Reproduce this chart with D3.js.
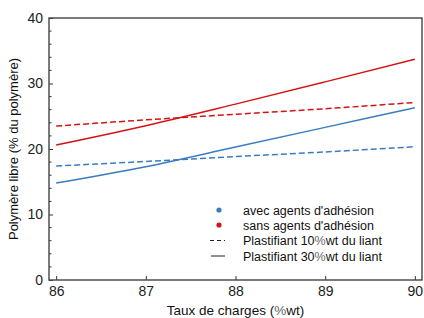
<!DOCTYPE html>
<html>
<head>
<meta charset="utf-8">
<script src="https://cdn.jsdelivr.net/npm/d3@7"></script>
<style>
body { margin: 0; background: #fff; }
svg { font-family: "Liberation Sans", Arial, sans-serif; }
</style>
</head>
<body>
<svg id="chart"></svg>
<script>
var width = 424, height = 318;
var margin = { top: 18, right: 2, bottom: 38, left: 49 };

// données
var charges = [86, 87, 88, 89, 90];
var rougePlein = [20.6, 23.55, 26.85, 30.25, 33.7];   // sans agents, 30%
var rougeTiret = [23.5, 24.45, 25.3, 26.15, 27.1];    // sans agents, 10%
var bleuPlein = [14.8, 17.3, 20.3, 23.3, 26.3];       // avec agents, 30%
var bleuTiret = [17.4, 18.1, 18.85, 19.55, 20.35];    // avec agents, 10%
var xTicks = [86, 87, 88, 89, 90];
var yTicks = [0, 10, 20, 30, 40];
var legendLabels = ["avec agents d'adhésion", "sans agents d'adhésion",
  "Plastifiant 10%wt du liant", "Plastifiant 30%wt du liant"];

var red = "#d41414", blue = "#3a7cc0";

var svg = d3.select("#chart").attr("width", width).attr("height", height);
var chart_width = width - margin.left - margin.right;
var chart_height = height - margin.top - margin.bottom;

var xScale = d3.scaleLinear().domain([85.92, 90.08]).range([0, chart_width]);
var yScale = d3.scaleLinear().domain([0, 40]).range([chart_height, 0]);

var g = svg.append("g").attr("transform", "translate(" + margin.left + "," + margin.top + ")");

// ticks mineurs y
var yMinor = d3.range(0, 41, 2).filter(function(v) { return v % 10 != 0; });
g.selectAll(".yminor").data(yMinor).enter().append("line")
  .attr("x1", 0).attr("x2", 2.5)
  .attr("y1", function(d) { return yScale(d); }).attr("y2", function(d) { return yScale(d); })
  .attr("stroke", "#333").attr("stroke-width", 1);

var yAxis = d3.axisLeft(yScale).tickValues(yTicks).tickFormat(d3.format("d")).tickSize(-4).tickPadding(6);
var gy = g.append("g").call(yAxis);
gy.select(".domain").remove();
gy.selectAll("line").attr("stroke", "#333");
gy.selectAll("text").attr("font-size", 14).attr("fill", "#222");

var xAxis = d3.axisBottom(xScale).tickValues(xTicks).tickFormat(d3.format("d")).tickSize(-4).tickPadding(6);
var gx = g.append("g").attr("transform", "translate(0," + chart_height + ")").call(xAxis);
gx.select(".domain").remove();
gx.selectAll("line").attr("stroke", "#333");
gx.selectAll("text").attr("font-size", 14).attr("fill", "#222");

// cadre
g.append("rect").attr("x", 0).attr("y", 0)
  .attr("width", chart_width).attr("height", chart_height)
  .attr("fill", "none").attr("stroke", "#444").attr("stroke-width", 1.4);

var line = d3.line().curve(d3.curveMonotoneX)
  .x(function(d, i) { return xScale(charges[i]); })
  .y(function(d) { return yScale(d); });

var series = [
  { values: bleuTiret, color: blue, dash: "6,3" },
  { values: bleuPlein, color: blue, dash: null },
  { values: rougeTiret, color: red, dash: "6,3" },
  { values: rougePlein, color: red, dash: null }
];
series.forEach(function(s) {
  g.append("path").datum(s.values)
    .attr("d", line)
    .attr("fill", "none")
    .attr("stroke", s.color)
    .attr("stroke-width", 1.5)
    .attr("stroke-dasharray", s.dash);
});

// texte avec le signe % plus clair, comme sur l'original
function pctText(sel, str) {
  str.split("%").forEach(function(part, i) {
    if (i > 0) sel.append("tspan").attr("fill", "#666").text("%");
    sel.append("tspan").text(part);
  });
}

// légende
var lg = svg.append("g");
var rowY = [210, 225, 240.5, 256];
lg.append("circle").attr("cx", 219).attr("cy", rowY[0]).attr("r", 2.6).attr("fill", blue);
lg.append("circle").attr("cx", 219).attr("cy", rowY[1]).attr("r", 2.6).attr("fill", red);
lg.append("line").attr("x1", 210).attr("x2", 225).attr("y1", rowY[2]).attr("y2", rowY[2])
  .attr("stroke", "#222").attr("stroke-width", 1).attr("stroke-dasharray", "4,3");
lg.append("line").attr("x1", 211).attr("x2", 225).attr("y1", rowY[3]).attr("y2", rowY[3])
  .attr("stroke", "#222").attr("stroke-width", 1);
lg.selectAll(".lt").data(legendLabels).enter().append("text")
  .attr("x", 243).attr("y", function(d, i) { return rowY[i] + 4.5; })
  .attr("font-size", 12.5).attr("fill", "#111")
  .each(function(d) { pctText(d3.select(this), d); });

// titres des axes
svg.append("text")
  .attr("transform", "translate(18," + (margin.top + chart_height / 2) + ") rotate(-90)")
  .attr("text-anchor", "middle").attr("font-size", 13).attr("fill", "#111")
  .text("Polymère libre (% du polymère)");
svg.append("text")
  .attr("x", margin.left + chart_width / 2).attr("y", 315)
  .attr("text-anchor", "middle").attr("font-size", 13.5).attr("fill", "#111")
  .call(function(t) { pctText(t, "Taux de charges (%wt)"); });
</script>
</body>
</html>
